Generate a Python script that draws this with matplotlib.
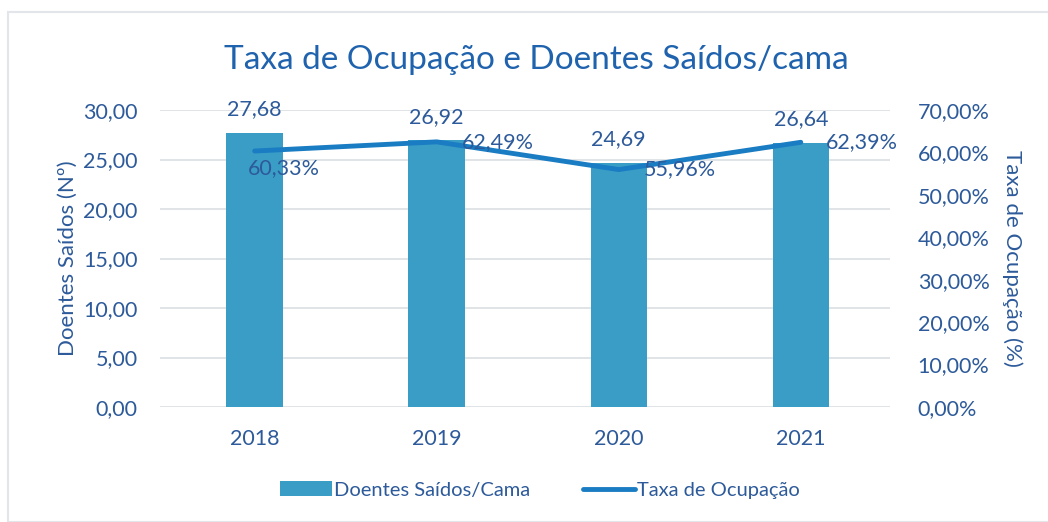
import matplotlib
matplotlib.use("Agg")
import matplotlib.pyplot as plt
from matplotlib.patches import Rectangle
from matplotlib.ticker import FuncFormatter

anos = ["2018", "2019", "2020", "2021"]
doentes_cama = [27.68, 26.92, 24.69, 26.64]
taxa_ocupacao = [60.33, 62.49, 55.96, 62.39]

plt.rcParams["font.family"] = ["Lato", "DejaVu Sans"]

bar_color = "#3a9dc6"
line_color = "#1a7cc2"
text_color = "#2d5a9a"
title_color = "#1f62ad"

fig = plt.figure(figsize=(10.48, 5.22), dpi=100)
fig.patches.append(Rectangle((8 / 1048, 0), 1.0, 1 - 12 / 522, transform=fig.transFigure,
                             fill=False, edgecolor="#e2e6ea", linewidth=1.5))

ax = fig.add_axes([160 / 1048, 1 - 407 / 522, 730 / 1048, 297 / 522])
ax2 = ax.twinx()

x = list(range(len(anos)))
bars = ax.bar(x, doentes_cama, width=0.31, color=bar_color, label="Doentes Saídos/Cama", zorder=2)
ax.set_xlim(-0.52, 3.49)
ax.set_ylim(0, 30)
ax.set_yticks([0, 5, 10, 15, 20, 25, 30])
ax.yaxis.set_major_formatter(FuncFormatter(lambda v, p: f"{v:.2f}".replace(".", ",")))
ax.grid(axis="y", color="#dcdfe3", linewidth=1.2, zorder=0)
ax.set_axisbelow(True)
ax.set_xticks(x)
ax.set_xticklabels(anos)

line, = ax2.plot(x, taxa_ocupacao, color=line_color, linewidth=3.5, label="Taxa de Ocupação",
                 solid_capstyle="round", zorder=3)
ax2.set_ylim(0, 70)
ax2.set_yticks(range(0, 80, 10))
ax2.yaxis.set_major_formatter(FuncFormatter(lambda v, p: f"{v:.2f}%".replace(".", ",")))

for a in (ax, ax2):
    for s in a.spines.values():
        s.set_visible(False)
    a.tick_params(length=0, labelsize=15.5, labelcolor=text_color)
ax.tick_params(axis="y", pad=16)
ax.tick_params(axis="x", pad=16)
ax2.tick_params(axis="y", pad=20)

ax.set_ylabel("Doentes Saídos (Nº)", fontsize=16, color=text_color, labelpad=4)
ax2.set_ylabel("Taxa de Ocupação (%)", fontsize=16, color=text_color, rotation=270, labelpad=24)

# rótulos das barras
for xi, v in zip(x, doentes_cama):
    ax.annotate(f"{v:.2f}".replace(".", ","), (xi, v), xytext=(0, 10), textcoords="offset points",
                ha="center", va="bottom", fontsize=15.5, color=text_color)

# rótulos da linha
offsets = [(-5, -12), (18, 0), (18, 0), (18, 0)]
for xi, v, off in zip(x, taxa_ocupacao, offsets):
    ax2.annotate(f"{v:.2f}%".replace(".", ","), (xi, v), xytext=off, textcoords="offset points",
                 ha="left", va="center", fontsize=15.5, color=text_color, zorder=4)

fig.text(0.512, 1 - 60 / 522, "Taxa de Ocupação e Doentes Saídos/cama", ha="center", va="center",
         fontsize=24, color=title_color)

fig.legend([bars, line], ["Doentes Saídos/Cama", "Taxa de Ocupação"], loc="center",
           bbox_to_anchor=(0.515, 1 - 490 / 522), ncol=2, frameon=False, fontsize=14.5,
           labelcolor=text_color, handlelength=2.6, handletextpad=0.1, columnspacing=2.6)

fig.savefig("out.png", dpi=100, facecolor="white")
